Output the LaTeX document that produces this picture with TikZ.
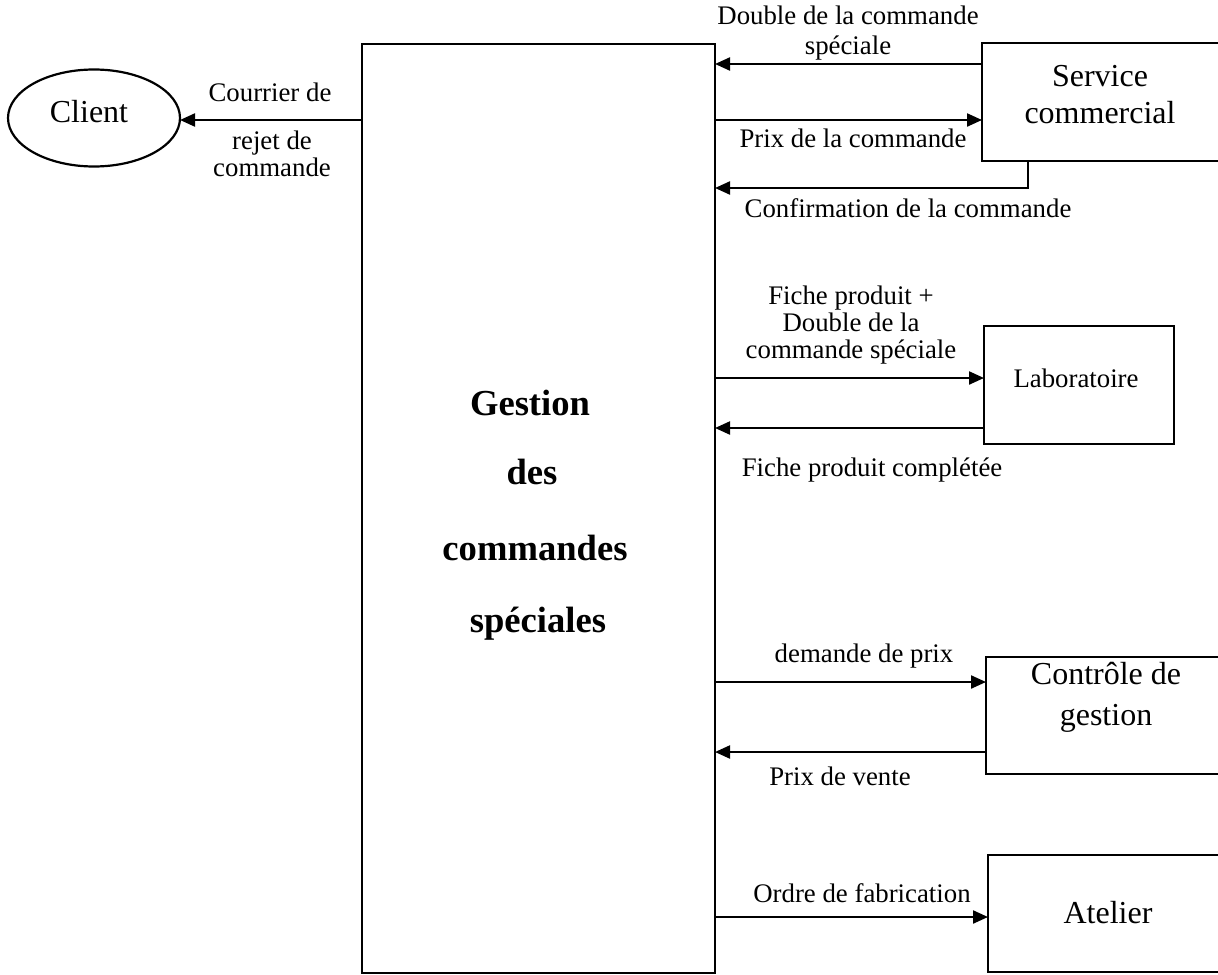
\documentclass[tikz,border=0pt]{standalone}
\usepackage{fontspec}
\setmainfont{Liberation Serif}
\usetikzlibrary{arrows.meta,shapes.geometric}
\begin{document}
\begin{tikzpicture}[x=0.5pt,y=-0.5pt,
  every node/.style={inner sep=0pt,outer sep=0pt},
  box/.style={draw,line width=1.1pt,rectangle,fill=none},
  arr/.style={line width=1.1pt,-{Triangle[length=7.5pt,width=6.5pt]}},
  lbl/.style={font=\fontsize{13.4}{13.3}\selectfont,align=center},
  big/.style={font=\fontsize{16}{19}\selectfont,align=center},
  bigb/.style={font=\fontsize{18.3}{20}\selectfont\bfseries}]
\useasboundingbox (0,0) rectangle (1218,974);
% main box
\node[box,minimum width=176.5pt,minimum height=464.5pt] (main) at (538.5,508.5) {};
\node[bigb] (t1) at (530,403) {Gestion};
\node[bigb] (t2) at (532,472) {des};
\node[bigb] (t3) at (535,548) {commandes};
\node[bigb] (t4) at (538,624) {spéciales};
% client
\node[draw,line width=1.1pt,ellipse,minimum width=86pt,minimum height=48.5pt] (client) at (94,118) {};
\node[big] (clientt) at (89,112) {Client};
% right boxes
\node[box,minimum width=120pt,minimum height=59pt] (sc) at (1102,102) {};
\node[big,font=\fontsize{16}{18.5}\selectfont] (sct) at (1100,95) {Service\\commercial};
\node[box,minimum width=95pt,minimum height=59pt] (lab) at (1079,385) {};
\node[lbl] (labt) at (1076,378) {Laboratoire};
\node[box,minimum width=120pt,minimum height=58.5pt] (cg) at (1106,715.5) {};
\node[big,font=\fontsize{16}{20.5}\selectfont] (cgt) at (1106,697) {Contrôle de\\gestion};
\node[box,minimum width=120pt,minimum height=58.5pt] (at) at (1108,913.5) {};
\node[big] (att) at (1108,913) {Atelier};
% helper y coordinates
\coordinate (y0) at (0,120);
\coordinate (y1) at (0,64);
\coordinate (y2) at (0,120);
\coordinate (y3) at (0,188);
\coordinate (y4) at (0,378);
\coordinate (y5) at (0,428);
\coordinate (y6) at (0,682);
\coordinate (y7) at (0,752);
\coordinate (y8) at (0,917);
\coordinate (cx) at (1028,0);
% connectors
\draw[arr] (main.west |- y0) -- (client.east |- y0);
\draw[arr] (sc.west |- y1) -- (main.east |- y1);
\draw[arr] (main.east |- y2) -- (sc.west |- y2);
\draw[arr] (cx |- sc.south) -- (cx |- y3) -- (main.east |- y3);
\draw[arr] (main.east |- y4) -- (lab.west |- y4);
\draw[arr] (lab.west |- y5) -- (main.east |- y5);
\draw[arr] (main.east |- y6) -- (cg.west |- y6);
\draw[arr] (cg.west |- y7) -- (main.east |- y7);
\draw[arr] (main.east |- y8) -- (at.west |- y8);
% labels
\node[lbl] (l0a) at (270,92) {Courrier de};
\node[lbl] (l0b) at (272,154) {rejet de\\commande};
\node[lbl,font=\fontsize{13.4}{15}\selectfont] (l1) at (848,33) {Double de la commande\\spéciale};
\node[lbl] (l2) at (853,138) {Prix de la commande};
\node[lbl] (l3) at (908,208) {Confirmation de la commande};
\node[lbl] (l4) at (851,325) {Fiche produit +\\Double de la\\commande spéciale};
\node[lbl] (l5) at (872,470) {Fiche produit complétée};
\node[lbl] (l6) at (864,656) {demande de prix};
\node[lbl] (l7) at (840,776) {Prix de vente};
\node[lbl] (l8) at (862,893) {Ordre de fabrication};
\end{tikzpicture}
\end{document}
